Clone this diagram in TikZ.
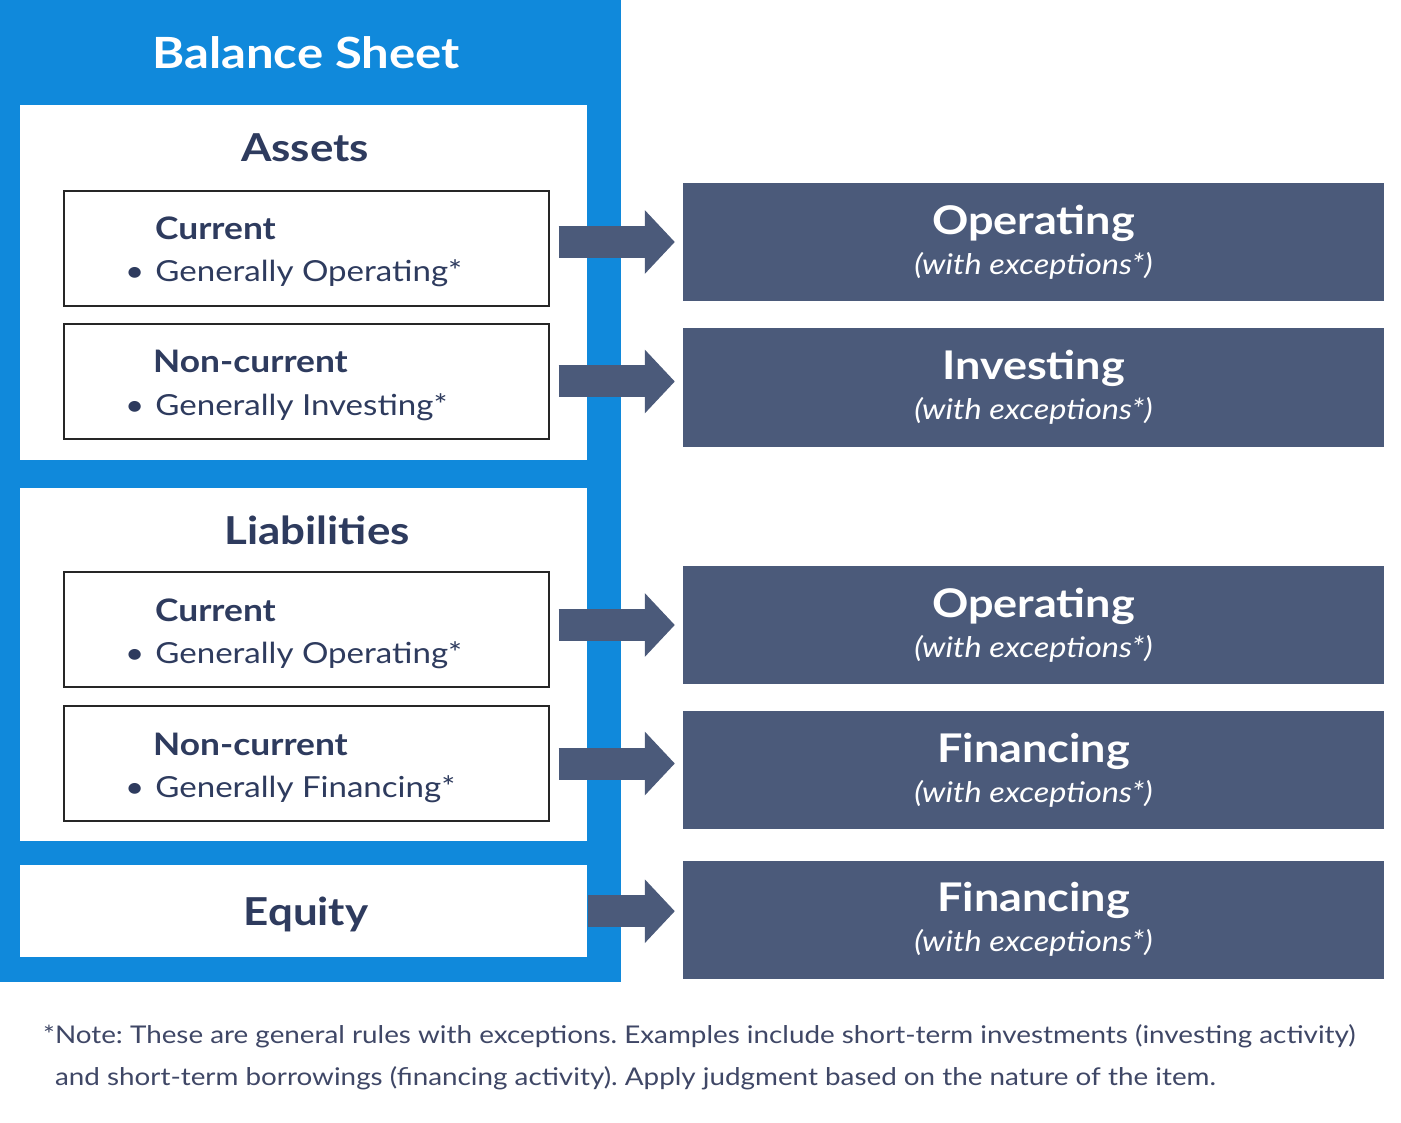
\documentclass[tikz,border=0pt]{standalone}
\usepackage{fontspec}
\setmainfont{Lato}[FakeStretch=1.14]
\usetikzlibrary{positioning,arrows.meta}
\definecolor{sheetblue}{RGB}{16,137,219}
\definecolor{slate}{RGB}{75,90,122}
\definecolor{navy}{RGB}{46,59,94}
\definecolor{notegray}{RGB}{63,71,102}
\tikzset
{
    panel/.style    = {rectangle, fill=sheetblue, anchor=north west, minimum width=621pt, minimum height=982pt, inner sep=0pt},
    section/.style  = {rectangle, fill=white, anchor=north west, minimum width=567pt, inner sep=0pt},
    itembox/.style  = {rectangle, draw=black!85, line width=1.2pt, fill=white, minimum width=485pt, minimum height=115pt},
    cashbox/.style  = {rectangle, fill=slate, text=white, align=center, minimum width=701pt, minimum height=118pt},
    sheettitle/.style = {text=white, font=\fontsize{43}{48}\selectfont\bfseries},
    sechead/.style  = {text=navy, font=\fontsize{38.5}{44}\selectfont\bfseries},
    itemhead/.style = {text=navy, font=\fontsize{31}{34}\selectfont\bfseries, anchor=base west, inner sep=0pt},
    itemtext/.style = {text=navy, font=\fontsize{29}{34}\selectfont, anchor=base west, inner sep=0pt},
    flowarrow/.style = {draw=slate, line width=32pt, -{Triangle[length=30pt,width=62pt]}, shorten <=9pt, shorten >=8pt},
}
\newcommand{\cashtext}[1]{{\fontsize{39.5}{44}\selectfont\bfseries #1}\\[10pt]{\fontsize{28.5}{34}\selectfont\itshape (with exceptions*)}}
\frenchspacing
\begin{document}
\begin{tikzpicture}[x=1pt,y=-1pt]
	\useasboundingbox (0,0) rectangle (1401,1123);
	\fill[white] (0,0) rectangle (1401,1123);

	% balance sheet side
	\node (sheet) [panel] at (0,0) {};
	\node (title) [sheettitle] at (306,53) {Balance Sheet};

	\node (assets) [section, minimum height=355pt] at (20,105) {};
	\node (assetshead) [sechead] at (305,148) {Assets};
	\node (acur) [itembox] at (306.5,248.5) {};
	\node (acurh) [itemhead] at (155,240) {Current};
	\node (acurt) [itemtext] at (125,282) {\textbullet\hspace{11pt}Generally Operating*};
	\node (anon) [itembox] at (306.5,381.5) {};
	\node (anonh) [itemhead] at (153,373) {Non-current};
	\node (anont) [itemtext] at (125,415) {\textbullet\hspace{11pt}Generally Investing*};

	\node (liab) [section, minimum height=353pt] at (20,488) {};
	\node (liabhead) [sechead] at (317,530) {Liabilities};
	\node (lcur) [itembox] at (306.5,629.5) {};
	\node (lcurh) [itemhead] at (155,621) {Current};
	\node (lcurt) [itemtext] at (125,663) {\textbullet\hspace{11pt}Generally Operating*};
	\node (lnon) [itembox] at (306.5,763.5) {};
	\node (lnonh) [itemhead] at (153,755) {Non-current};
	\node (lnont) [itemtext] at (125,797) {\textbullet\hspace{11pt}Generally Financing*};

	\node (equity) [section, minimum height=92pt] at (20,865) {};
	\node (equityhead) [sechead] at (306,914) {Equity};

	% cash flow side
	\node (op1) [cashbox] at (1033.5,242) {\cashtext{Operating}};
	\node (inv) [cashbox] at (1033.5,387.5) {\cashtext{Investing}};
	\node (op2) [cashbox] at (1033.5,625) {\cashtext{Operating}};
	\node (fin1) [cashbox] at (1033.5,770) {\cashtext{Financing}};
	\node (fin2) [cashbox] at (1033.5,919.5) {\cashtext{Financing}};

	\draw [flowarrow] (acur.east |- op1.west) -- (op1.west);
	\draw [flowarrow] (anon.east) -- (anon.east -| inv.west);
	\draw [flowarrow] (lcur.east |- op2.west) -- (op2.west);
	\draw [flowarrow] (lnon.east) -- (lnon.east -| fin1.west);
	\draw [flowarrow, shorten <=1pt] (equity.east) -- (equity.east -| fin2.west);

	\node (note) [anchor=north west, text=notegray, align=left, inner sep=0pt, font=\fontsize{24.4}{42}\selectfont] at (43,1024)
		{*Note: These are general rules with exceptions. Examples include short-term investments (investing activity)\\
		\hphantom{*}and short-term borrowings (financing activity). Apply judgment based on the nature of the item.};
\end{tikzpicture}
\end{document}
